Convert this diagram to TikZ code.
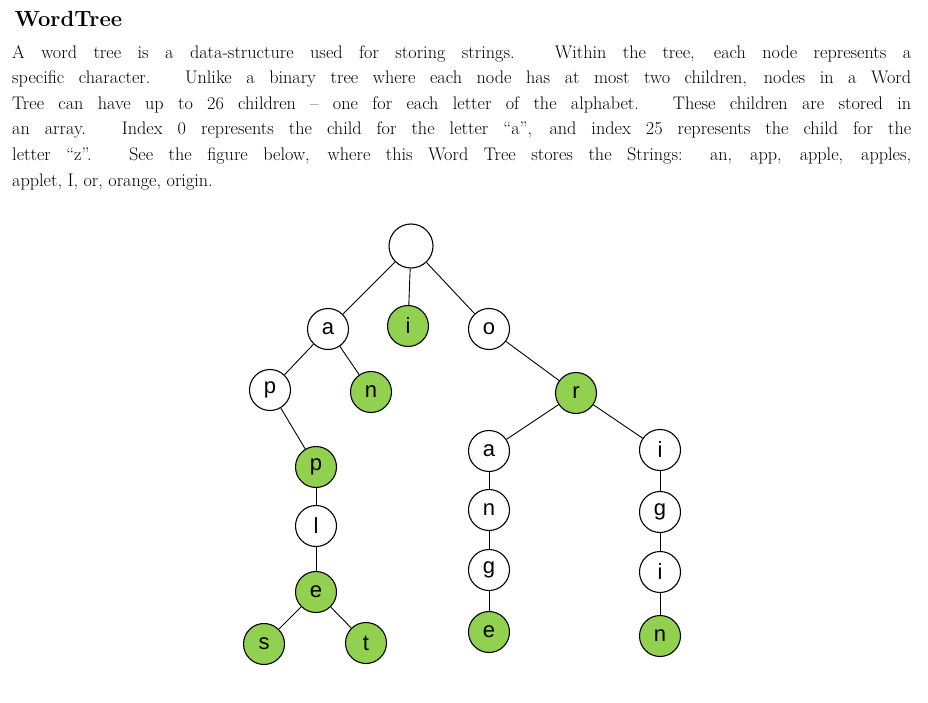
\documentclass[tikz,border=0pt]{standalone}
\usepackage{fontspec}
\newfontfamily\arialf{Liberation Sans}
\definecolor{lgreen}{RGB}{146,208,80}
\begin{document}
\begin{tikzpicture}[x=1pt,y=-1pt,
  tn/.style={circle,draw=black,line width=1.1pt,minimum size=41pt,inner sep=0pt,fill=white,font=\arialf\fontsize{22}{22}\selectfont},
  gn/.style={tn,fill=lgreen},
  ed/.style={line width=0.9pt}]
\useasboundingbox (0,0) rectangle (928,703);
\node[anchor=west,font=\bfseries\fontsize{22}{26}\selectfont] (title) at (11,19) {WordTree};
\node[anchor=north west,text width=899pt,align=justify,inner sep=0pt,font=\fontsize{18.2}{25.6}\selectfont] (para) at (12,45) {A word tree is a data-structure used for storing strings. Within the tree, each node represents a\linebreak specific character. Unlike a binary tree where each node has at most two children, nodes in a Word\linebreak Tree can have up to 26 children -- one for each letter of the alphabet. These children are stored in\linebreak an array. Index 0 represents the child for the letter ``a'', and index 25 represents the child for the\linebreak letter ``z''. See the figure below, where this Word Tree stores the Strings: an, app, apple, apples,\linebreak applet, I, or, orange, origin.};
\node[tn,minimum size=44pt] (root) at (411,246) {};
\node[tn] (a) at (328,329) {a};
\node[gn] (i) at (408,326) {i};
\node[tn] (o) at (489,329) {o};
\node[tn] (p) at (270,390) {p};
\node[gn] (n) at (371,392) {n};
\node[gn] (r) at (576,393) {r};
\node[gn] (p2) at (316,467) {p};
\node[tn] (a2) at (489,451) {a};
\node[tn] (i2) at (660,450) {i};
\node[tn] (l) at (316,526) {l};
\node[tn] (n2) at (489,510) {n};
\node[tn] (g) at (660,512) {g};
\node[gn] (e) at (316,592) {e};
\node[tn] (g2) at (489,570) {g};
\node[tn] (i3) at (660,572) {i};
\node[gn] (s) at (264,644) {s};
\node[gn] (t) at (366,643) {t};
\node[gn] (e2) at (489,632) {e};
\node[gn] (n3) at (660,636) {n};
\foreach \u/\v in {root/a,root/i,root/o,a/p,a/n,o/r,p/p2,p2/l,l/e,e/s,e/t,r/a2,r/i2,a2/n2,n2/g2,g2/e2,i2/g,g/i3,i3/n3}
  \draw[ed] (\u) -- (\v);
\end{tikzpicture}
\end{document}
